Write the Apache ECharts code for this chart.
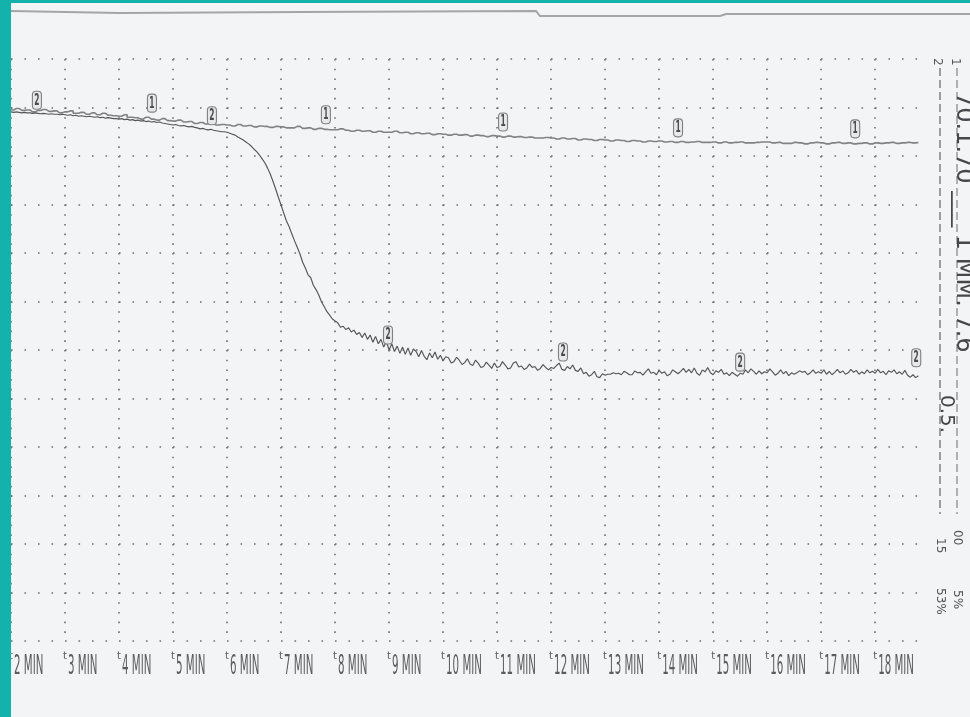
<!DOCTYPE html>
<html>
<head>
<meta charset="utf-8">
<script src="https://cdn.jsdelivr.net/npm/echarts@6/dist/echarts.min.js"></script>
<style>
  html, body { margin: 0; padding: 0; background: #f3f4f6; }
  #chart { width: 970px; height: 717px; }
</style>
</head>
<body>
<div id="chart"></div>
<script>
// Recorder trace: time in minutes on x, detector response (chart units) on y.
const minuteTicks = [2, 3, 4, 5, 6, 7, 8, 9, 10, 11, 12, 13, 14, 15, 16, 17, 18];

// Pen 1: sampled every 0.1 min from 2.0 min
const curve1Start = 2.0;
const curve1Step = 0.1;
const curve1Values = [
  109.5,109.8,109.4,109.5,109.1,109.4,109.6,109.2,109.3,108.9,
  109.1,109.3,108.8,109.0,108.6,108.9,108.5,108.8,108.4,108.3,
  108.2,108.5,108.0,107.9,107.6,108.0,107.6,107.4,107.7,107.3,
  107.2,107.4,107.0,107.1,106.7,106.9,106.6,106.7,106.4,106.5,
  106.4,106.2,106.5,106.2,106.3,106.0,106.2,106.1,105.9,106.1,
  106.0,105.8,105.8,106.1,105.7,105.8,105.5,105.7,105.5,105.4,
  105.4,105.6,105.3,105.1,105.3,105.1,105.2,104.9,105.1,104.9,
  104.9,105.1,104.8,104.9,104.6,104.8,104.6,104.7,104.4,104.6,
  104.5,104.3,104.5,104.3,104.4,104.1,104.3,104.2,104.0,104.2,
  104.1,103.9,104.1,103.9,104.0,103.8,103.9,103.7,103.7,103.8,
  103.7,103.5,103.7,103.5,103.6,103.3,103.5,103.4,103.2,103.4,
  103.3,103.1,103.3,103.2,103.0,103.2,103.1,102.9,103.1,103.0,
  103.1,102.9,103.0,102.8,103.0,102.8,102.9,103.0,102.8,102.8,
  102.9,102.7,102.9,102.7,102.8,102.9,102.7,102.7,102.8,102.9,
  102.9,102.7,102.8,102.6,102.6,102.8,102.7,102.5,102.7,102.8,
  102.7,102.5,102.7,102.8,102.6,102.7,102.5,102.6,102.7,102.5,
  102.7,102.6,102.7,102.8,102.6,102.7,102.8,102.7,102.8
];

// Pen 2: sampled every 0.05 min from 2.0 min
const curve2Start = 2.0;
const curve2Step = 0.05;
const curve2Values = [
  109.1,109.0,109.1,109.0,108.9,109.0,108.9,108.9,108.8,108.9,
  108.8,108.7,108.8,108.7,108.6,108.7,108.6,108.6,108.5,108.6,
  108.5,108.4,108.5,108.3,108.4,108.2,108.3,108.2,108.1,108.2,
  108.1,108.0,108.1,107.9,108.0,107.8,107.9,107.8,107.7,107.7,
  107.6,107.7,107.5,107.6,107.4,107.5,107.3,107.4,107.2,107.3,
  107.1,107.2,107.0,107.1,106.9,107.0,106.8,106.7,106.6,106.5,
  106.4,106.5,106.3,106.2,106.3,106.1,106.0,106.1,105.9,105.8,
  105.6,105.7,105.5,105.4,105.5,105.3,105.2,105.1,105.0,105.0,
  104.9,104.7,104.5,104.3,103.9,103.6,103.3,102.9,102.5,102.0,
  101.4,100.9,100.2,99.4,98.6,97.5,96.3,94.8,93.2,91.5,
  89.9,88.2,86.6,85.4,83.9,82.5,81.2,79.8,78.1,76.9,
  75.5,74.9,73.3,72.4,71.3,69.9,68.9,67.9,67.2,66.4,
  66.0,65.6,64.7,64.9,64.2,64.6,63.7,64.1,63.2,63.6,
  62.6,63.5,62.2,63.1,61.6,62.8,61.3,62.2,60.6,61.7,
  60.0,61.3,59.7,60.8,59.3,60.6,59.1,60.4,58.9,60.2,
  59.7,58.6,59.9,58.7,58.0,59.4,58.4,59.6,58.1,58.9,
  57.8,58.6,58.4,57.3,57.6,58.5,57.9,57.0,57.4,58.2,
  57.1,56.8,57.9,57.3,56.4,56.6,57.5,56.9,56.2,57.3,
  56.4,56.6,57.6,56.9,56.1,56.3,57.3,57.6,56.5,56.7,
  56.0,56.3,57.1,56.4,56.6,55.8,56.2,57.0,56.4,55.9,
  56.4,56.2,56.8,57.3,56.0,55.8,56.6,56.1,56.9,55.8,
  55.6,56.3,55.1,55.4,54.6,54.9,55.6,54.5,54.3,55.1,
  54.8,55.0,55.0,55.3,55.1,55.2,54.9,55.6,55.3,54.9,
  54.9,55.7,55.3,55.4,54.8,55.5,56.1,55.2,55.4,54.9,
  55.8,55.2,55.5,54.7,55.0,55.9,55.5,55.1,55.6,56.2,
  55.4,56.0,55.3,56.3,55.2,54.8,55.9,55.5,56.4,55.3,
  54.9,55.7,55.4,56.0,55.0,55.3,54.7,55.4,55.0,54.6,
  55.2,55.0,55.9,55.3,56.1,55.6,55.0,55.7,55.1,55.5,
  55.3,56.1,55.5,54.8,55.2,55.9,55.1,55.6,54.7,55.3,
  55.0,55.3,55.7,55.4,55.6,54.9,55.3,55.9,55.2,55.5,
  55.2,55.9,55.0,55.6,54.9,55.4,56.0,55.3,55.7,55.0,
  55.3,56.0,55.4,55.8,55.0,55.5,55.1,55.9,55.3,55.6,
  55.2,56.0,55.3,55.6,54.9,55.7,55.4,55.9,55.1,55.5,
  55.0,55.8,54.8,54.4,54.9,54.3,54.7
];

// Pen identification marks printed along each trace
const marker1Times  = [4.61, 7.83, 11.11, 14.35, 17.63];
const marker1Values = [110.9, 108.5, 107.0, 105.8, 105.6];
const marker2Times  = [2.48, 5.72, 8.98, 12.22, 15.5, 18.76];
const marker2Values = [111.5, 108.3, 63.1, 59.6, 57.5, 58.4];

const toSeries = (start, step, values) =>
  values.map((v, i) => [+(start + i * step).toFixed(2), v]);

const ink = '#5a5c5e';
const printFont = "'DejaVu Sans', sans-serif";

function markerRenderer(text) {
  return function (params, api) {
    const p = api.coord([api.value(0), api.value(1)]);
    return {
      type: 'group',
      children: [
        { type: 'rect', shape: { x: p[0] - 4.5, y: p[1] - 9, width: 9, height: 18, r: 3.5 },
          style: { fill: '#e6e8e9', stroke: '#7f8183', lineWidth: 1.1 } },
        { type: 'text', x: p[0], y: p[1] + 0.5, scaleX: 0.5,
          style: { text: text, fontSize: 15, fontWeight: 'bold', fontFamily: printFont,
                   fill: '#4a4c4e', align: 'center', verticalAlign: 'middle' } }
      ]
    };
  };
}

function tickLabelRenderer(params, api) {
  const m = api.value(0);
  const p = api.coord([m, 0]);
  return {
    type: 'group',
    children: [
      { type: 'text', x: p[0] - 2, y: p[1] + 10,
        style: { text: 't', fontSize: 10, fontFamily: printFont, fill: ink,
                 align: 'left', verticalAlign: 'top' } },
      { type: 'text', x: p[0] + 3, y: p[1] + 12, scaleX: 0.38,
        style: { text: m + ' MIN', fontSize: 27, fontFamily: printFont, fill: ink,
                 align: 'left', verticalAlign: 'top' } }
    ]
  };
}

const chart = echarts.init(document.getElementById('chart'), null, { renderer: 'canvas' });

// text running downward along the right margin
const rotatedText = (text, x, y, size, color, weight) => ({
  type: 'text', x: x, y: y, rotation: -Math.PI / 2, z: 50, silent: true,
  style: { text: text, fontSize: size, fontWeight: weight || 'normal',
           fontFamily: "'DejaVu Sans', sans-serif",
           fill: color, align: 'left', verticalAlign: 'middle' }
});

chart.setOption({
  backgroundColor: '#f3f4f6',
  animation: false,
  grid: { left: 11, right: 50, top: 59, bottom: 76, containLabel: false },
  xAxis: {
    type: 'value', min: 2, max: 18.83, interval: 1,
    axisLine: { show: false }, axisTick: { show: false }, axisLabel: { show: false },
    splitLine: { show: true, showMaxLine: false,
      lineStyle: { color: '#6d6f71', width: 1.6, type: [1.6, 8.1] } }
  },
  yAxis: {
    type: 'value', min: 0, max: 120, interval: 10,
    axisLine: { show: false }, axisTick: { show: false }, axisLabel: { show: false },
    splitLine: { show: true,
      lineStyle: { color: '#6d6f71', width: 1.6, type: [1.6, 11.9] } }
  },
  series: [
    { name: 'Pen 1', type: 'line', data: toSeries(curve1Start, curve1Step, curve1Values),
      showSymbol: false, step: 'middle', silent: true,
      lineStyle: { color: '#808285', width: 1.6 }, z: 3 },
    { name: 'Pen 2', type: 'line', data: toSeries(curve2Start, curve2Step, curve2Values),
      showSymbol: false, silent: true,
      lineStyle: { color: '#545658', width: 1.15 }, z: 4 },
    { name: 'Pen 1 mark', type: 'custom', clip: false, silent: true, z: 6,
      renderItem: markerRenderer('1'),
      data: marker1Times.map((t, i) => [t, marker1Values[i]]) },
    { name: 'Pen 2 mark', type: 'custom', clip: false, silent: true, z: 6,
      renderItem: markerRenderer('2'),
      data: marker2Times.map((t, i) => [t, marker2Values[i]]) },
    { name: 'Minute labels', type: 'custom', clip: false, silent: true, z: 5,
      renderItem: tickLabelRenderer,
      data: minuteTicks.map(m => [m]) }
  ],
  graphic: [
    // paper edge shadow along the top
    { type: 'polyline', z: 40, silent: true,
      shape: { points: [[11, 11], [120, 13], [300, 12], [536, 11], [540, 16], [720, 16], [726, 14], [970, 14]] },
      style: { stroke: '#a3a5a8', lineWidth: 2, fill: null } },
    // pen legend rules on the right margin
    { type: 'line', z: 40, silent: true, shape: { x1: 940, y1: 68, x2: 940, y2: 514 },
      style: { stroke: '#6e7072', lineWidth: 1.3, lineDash: [8, 4] } },
    { type: 'line', z: 40, silent: true, shape: { x1: 957, y1: 68, x2: 957, y2: 514 },
      style: { stroke: '#8a8c8e', lineWidth: 1.3, lineDash: [8, 4] } },
    rotatedText('2', 937, 58, 12, '#555'),
    rotatedText('1', 955, 58, 12, '#555'),
    rotatedText('70.1.70 ___ 1 MM. 7.6', 963, 92, 24, '#45474a'),
    rotatedText('0.5.', 946, 395, 20, '#45474a'),
    rotatedText('15', 940, 538, 12, '#555'),
    rotatedText('53%', 940, 588, 12, '#555'),
    rotatedText('00', 957, 530, 12, '#555'),
    rotatedText('5%', 957, 590, 12, '#555'),
    // frame
    { type: 'rect', z: 100, silent: true, shape: { x: 0, y: 0, width: 11, height: 717 },
      style: { fill: '#13b3ab' } },
    { type: 'rect', z: 100, silent: true, shape: { x: 0, y: 0, width: 970, height: 3 },
      style: { fill: '#13b3ab' } }
  ]
});
</script>
</body>
</html>
